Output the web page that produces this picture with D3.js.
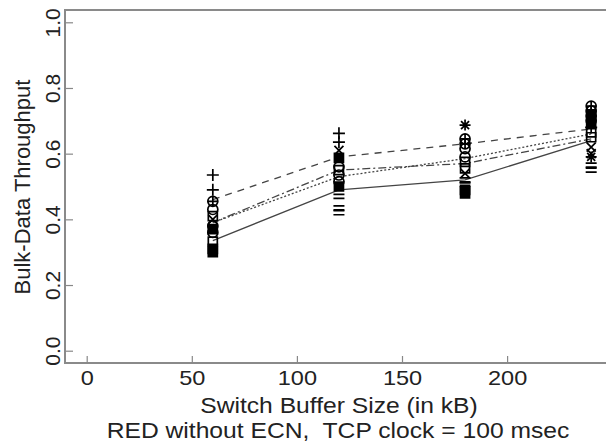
<!DOCTYPE html>
<html>
<head>
<meta charset="utf-8">
<script src="https://cdn.jsdelivr.net/npm/d3@7"></script>
<style>
  html, body { margin: 0; padding: 0; background: #fff; }
  svg { display: block; }
  text { font-family: "Liberation Sans", Arial, sans-serif; fill: #222; }
</style>
</head>
<body>
<div id="chart"></div>
<script>
// buffer sizes (kB) used in the runs
const bufferSizes = [60, 120, 180, 240];

// mean throughput per configuration (one line each)
const solidMeans = [0.335, 0.49, 0.52, 0.64];
const dottedMeans = [0.39, 0.53, 0.585, 0.66];
const dashDotMeans = [0.39, 0.55, 0.57, 0.645];
const dashedMeans = [0.46, 0.59, 0.63, 0.675];

// individual runs, [buffer size, throughput]
const plusPts = [[60, 0.535], [60, 0.49], [120, 0.662], [120, 0.635], [240, 0.68]];
const circlePlusPts = [[60, 0.455], [180, 0.645], [180, 0.63], [240, 0.745], [240, 0.73]];
const circlePts = [[60, 0.43], [60, 0.38], [60, 0.36], [120, 0.56], [120, 0.535], [120, 0.515],
    [180, 0.615], [180, 0.59], [240, 0.715], [240, 0.70]];
const squarePts = [[60, 0.41], [60, 0.332], [120, 0.55], [180, 0.575], [180, 0.555],
    [240, 0.665], [240, 0.65]];
const filledSquarePts = [[60, 0.37], [60, 0.31], [60, 0.30], [120, 0.587], [120, 0.50],
    [180, 0.49], [180, 0.479], [240, 0.72], [240, 0.69]];
const crossPts = [[60, 0.40], [120, 0.61], [180, 0.54], [240, 0.62], [240, 0.60]];
const starPts = [[180, 0.687], [240, 0.59]];
const equalPts = [[120, 0.47], [120, 0.435], [120, 0.42], [180, 0.52], [180, 0.505],
    [240, 0.565], [240, 0.55]];

const xTicks = [0, 50, 100, 150, 200];
const yTicks = [0, 0.2, 0.4, 0.6, 0.8, 1.0];

const width = 606;
const height = 447;
const stretch = 1.12; // the original text is a bit wider than tall

const svg = d3.select('#chart').append('svg')
    .attr('width', width)
    .attr('height', height);

const frame = {left: 65, top: 10, right: 625, bottom: 363};

const x = d3.scaleLinear().domain([0, 250]).range([86.7, 612.2]);
const y = d3.scaleLinear().domain([0, 1]).range([350.7, 22.3]);

// plot frame
svg.append('rect')
    .attr('x', frame.left)
    .attr('y', frame.top)
    .attr('width', frame.right - frame.left)
    .attr('height', frame.bottom - frame.top)
    .attr('fill', 'none')
    .attr('stroke', '#8a8a8a')
    .attr('stroke-width', 2);

// y axis, ticks pointing inwards, labels rotated
const yAxis = svg.append('g')
    .attr('transform', `translate(${frame.left}, 0)`)
    .call(d3.axisLeft(y).tickValues(yTicks).tickSize(-8).tickFormat(d3.format('.1f')));
yAxis.select('.domain').remove();
yAxis.selectAll('line').attr('stroke', '#888').attr('stroke-width', 1.2);
yAxis.selectAll('text')
    .attr('transform', 'rotate(-90)')
    .attr('x', 0)
    .attr('y', -5)
    .attr('dy', 0)
    .attr('text-anchor', 'middle')
    .style('font-size', '21px')
    .attr('fill', '#222');

// x axis
const xAxis = svg.append('g')
    .attr('transform', `translate(0, ${frame.bottom})`)
    .call(d3.axisBottom(x).tickValues(xTicks).tickSize(-7).tickFormat(d3.format('d')));
xAxis.select('.domain').remove();
xAxis.selectAll('line').attr('stroke', '#888').attr('stroke-width', 1.2);
xAxis.selectAll('text')
    .attr('y', 22)
    .attr('dy', 0)
    .attr('class', 'wide')
    .style('font-size', '21px')
    .attr('fill', '#222');

// axis titles
svg.append('text')
    .attr('class', 'wide')
    .attr('x', 339)
    .attr('y', 413)
    .attr('text-anchor', 'middle')
    .style('font-size', '22px')
    .text('Switch Buffer Size (in kB)');

svg.append('text')
    .attr('class', 'wide')
    .attr('x', 338)
    .attr('y', 438)
    .attr('text-anchor', 'middle')
    .style('font-size', '22px')
    .style('white-space', 'pre')
    .text('RED without ECN,  TCP clock = 100 msec');

svg.append('text')
    .attr('transform', 'translate(30, 187) rotate(-90)')
    .attr('text-anchor', 'middle')
    .style('font-size', '22px')
    .text('Bulk-Data Throughput');

// mean lines
const line = d3.line()
    .x((d, i) => x(bufferSizes[i]))
    .y(d => y(d));

const lines = [
    {values: solidMeans, dash: null},
    {values: dottedMeans, dash: '2,2'},
    {values: dashDotMeans, dash: '8,3,2,3'},
    {values: dashedMeans, dash: '7,6'},
];

lines.forEach((l) => {
    svg.append('path')
        .attr('d', line(l.values))
        .attr('fill', 'none')
        .attr('stroke', '#444')
        .attr('stroke-width', 1.3)
        .attr('stroke-dasharray', l.dash);
});

// run markers
const symbolPaths = {
    plus: 'M-6,0H6M0,-6V6',
    cross: 'M-4.5,-4.5L4.5,4.5M-4.5,4.5L4.5,-4.5',
    star: 'M-5.5,0H5.5M0,-5.5V5.5M-4,-4L4,4M-4,4L4,-4',
    equal: 'M-5.5,-2H5.5M-5.5,2H5.5',
    square: 'M-4.5,-4.5H4.5V4.5H-4.5Z',
    filledSquare: 'M-4.5,-4.5H4.5V4.5H-4.5Z',
    circle: 'M5,0A5,5 0 1,1 -5,0A5,5 0 1,1 5,0Z',
    circlePlus: 'M5,0A5,5 0 1,1 -5,0A5,5 0 1,1 5,0ZM-5,0H5M0,-5V5',
};

const addMarkers = (pts, type) => {
    svg.append('g')
        .attr('class', `markers-${type}`)
        .selectAll('path')
        .data(pts)
        .join('path')
        .attr('transform', d => `translate(${x(d[0])}, ${y(d[1])})`)
        .attr('d', symbolPaths[type])
        .attr('fill', type === 'filledSquare' ? '#000' : 'none')
        .attr('stroke', '#000')
        .attr('stroke-width', 1.7);
};

addMarkers(circlePts, 'circle');
addMarkers(squarePts, 'square');
addMarkers(filledSquarePts, 'filledSquare');
addMarkers(circlePlusPts, 'circlePlus');
addMarkers(crossPts, 'cross');
addMarkers(starPts, 'star');
addMarkers(plusPts, 'plus');
addMarkers(equalPts, 'equal');

// widen horizontal text to the original proportions
svg.selectAll('text.wide').each(function () {
    const len = this.getComputedTextLength();
    d3.select(this)
        .attr('textLength', len * stretch)
        .attr('lengthAdjust', 'spacingAndGlyphs');
});
</script>
</body>
</html>
